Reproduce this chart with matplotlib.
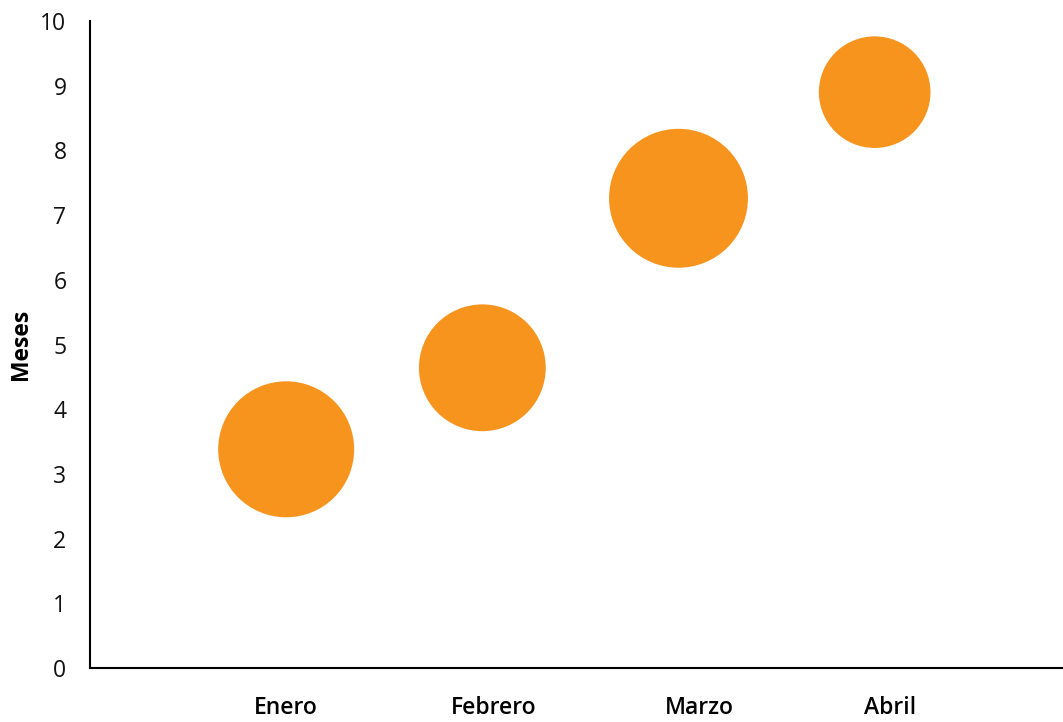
import matplotlib
matplotlib.use("Agg")
import matplotlib.pyplot as plt

categories = ["Enero", "Febrero", "Marzo", "Abril"]
y_values = [3.38, 4.64, 7.26, 8.90]
bubble_values = [4.6, 4.0, 4.8, 3.1]
y_ticks = list(range(0, 11))

SIZE_SCALE = 2084
COLOR = "#F7941E"
# label placement offsets (layout only), in x-axis units
LABEL_SHIFT = [0.0, 0.06, 0.105, 0.08]

plt.rcParams['font.family'] = ['Open Sans', 'DejaVu Sans']

fig = plt.figure(figsize=(10.63, 7.22), dpi=100)
ax = fig.add_axes([90/1063, (722-668)/722, (1063-90)/1063, (668-21)/722])

x = list(range(1, len(categories) + 1))
ax.scatter(x, y_values, s=[b * SIZE_SCALE for b in bubble_values],
           color=COLOR, edgecolors='none', zorder=3, clip_on=False)

ax.set_xlim(0, 4.96)
ax.set_ylim(0, 10)
ax.set_yticks(y_ticks)
ax.set_yticklabels([str(t) for t in y_ticks], fontsize=16.5, color="#111111")
ax.set_xticks([xi + d for xi, d in zip(x, LABEL_SHIFT)])
ax.set_xticklabels(categories, fontsize=16.5, fontweight='semibold', color="#000000")
ax.tick_params(axis='y', length=0, pad=17)
ax.tick_params(axis='x', length=0, pad=20)

for s in ['top', 'right']:
    ax.spines[s].set_visible(False)
for s in ['left', 'bottom']:
    ax.spines[s].set_linewidth(1.5)
    ax.spines[s].set_color("#000000")

ax.set_ylabel("Meses", fontsize=16.5, fontweight='bold')
ax.yaxis.set_label_coords(-57/973, 0.5)

fig.savefig("out.png", dpi=100)
